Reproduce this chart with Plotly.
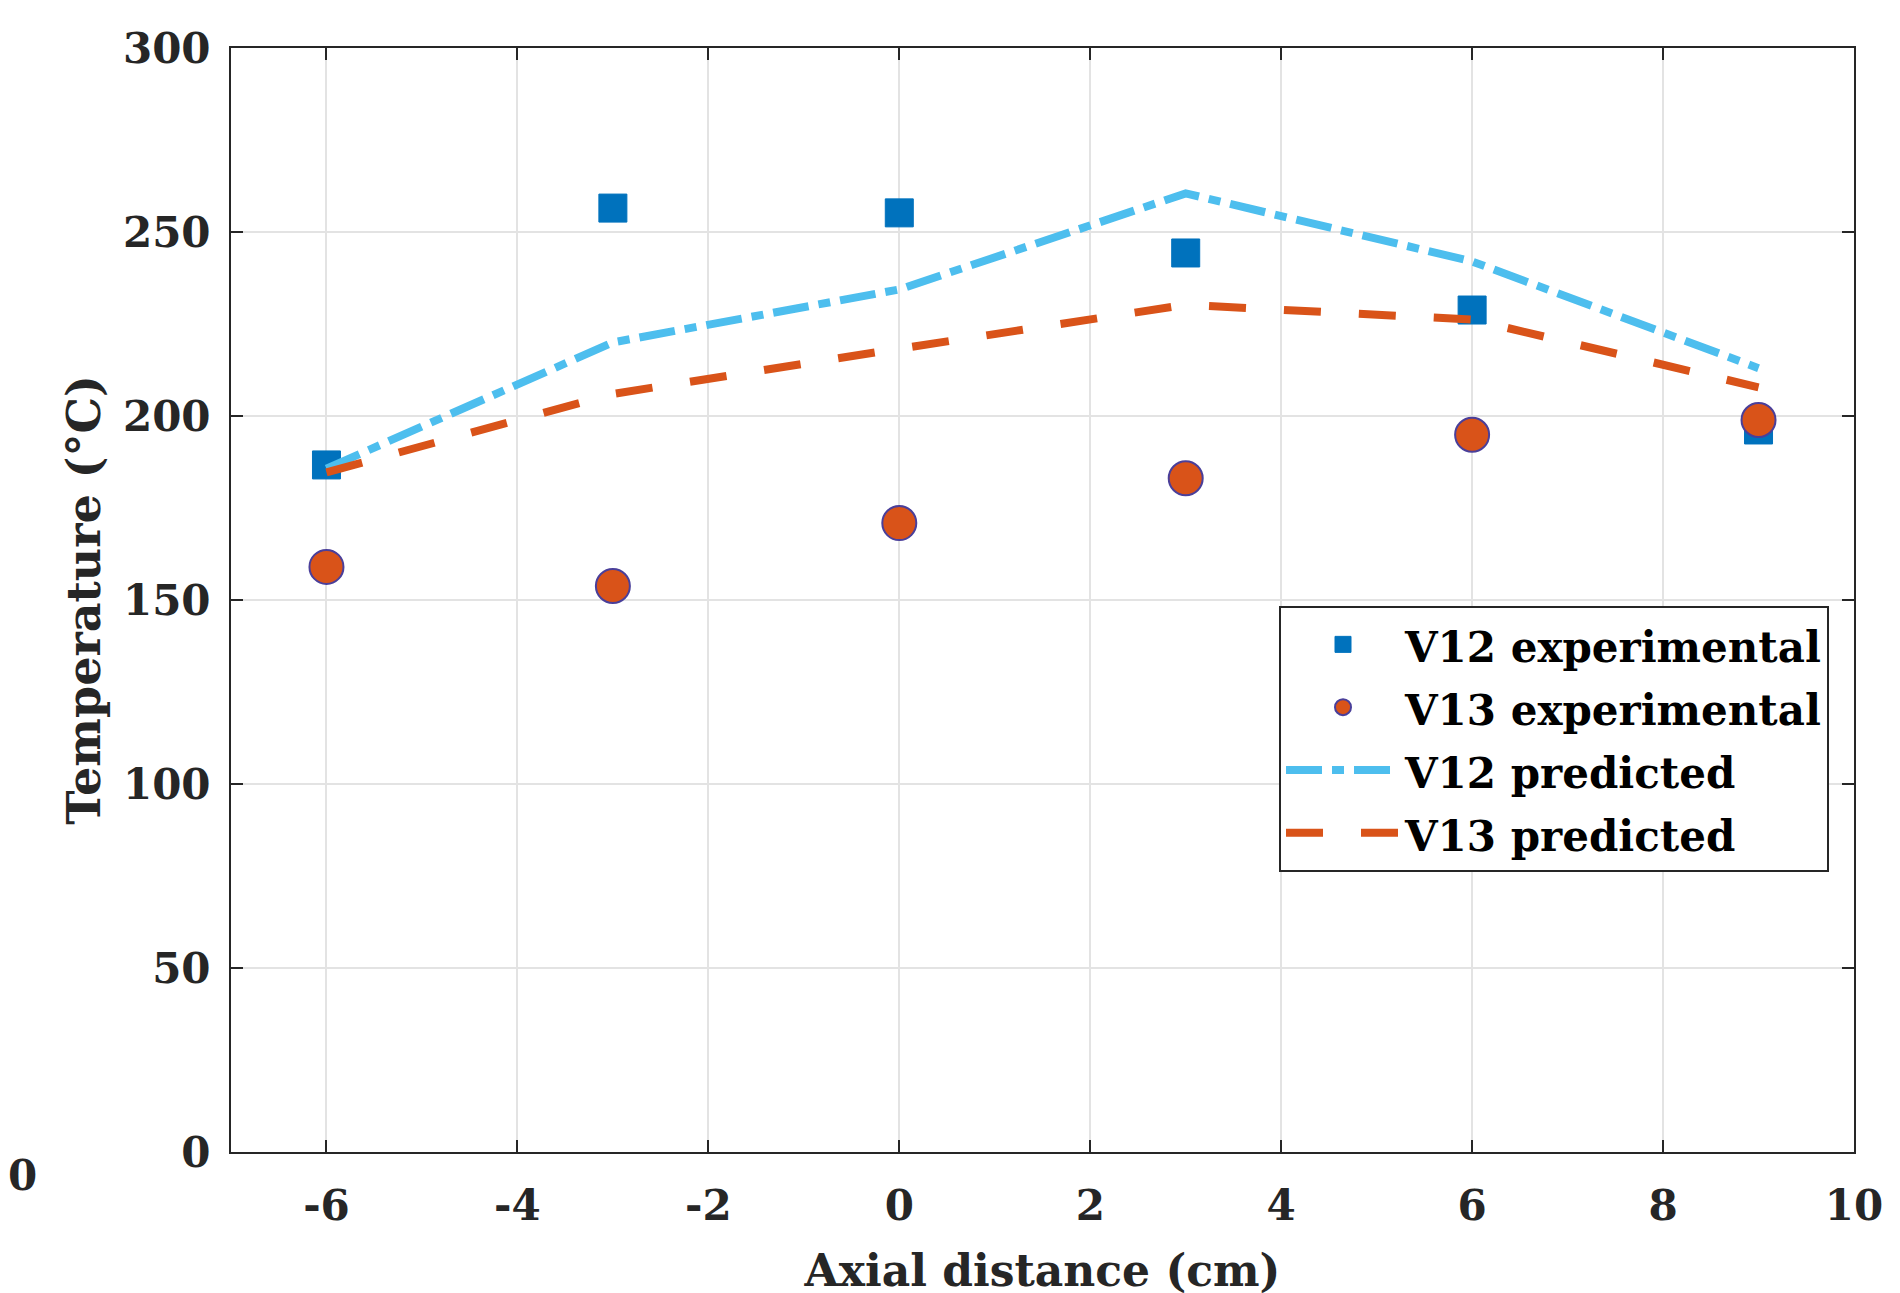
import plotly.graph_objects as go

x_pos = [-6, -3, 0, 3, 6, 9]
v12_exp = [186.7, 256.5, 255.2, 244.3, 228.8, 196.2]
v13_exp = [159.0, 153.8, 170.9, 183.1, 194.9, 198.9]
v12_pred = [185.7, 220.0, 234.4, 260.5, 242.0, 213.0]
v13_pred = [184.7, 206.0, 218.3, 230.2, 226.2, 207.8]

x_ticks = [-6, -4, -2, 0, 2, 4, 6, 8, 10]
y_ticks = [0, 50, 100, 150, 200, 250, 300]

series_names = ["V12 experimental", "V13 experimental", "V12 predicted", "V13 predicted"]

FONT = "DejaVu Serif"
LEG_TXT = '<span style="font-size:42px">{}</span>'

fig = go.Figure()
fig.add_trace(go.Scatter(
    x=x_pos, y=v12_exp, mode="markers", name=LEG_TXT.format(series_names[0]),
    marker=dict(symbol="square", size=28, color="#0072BD",
                line=dict(color="#0072BD", width=1))))
fig.add_trace(go.Scatter(
    x=x_pos, y=v13_exp, mode="markers", name=LEG_TXT.format(series_names[1]),
    marker=dict(symbol="circle", size=34, color="#D95319",
                line=dict(color="#4a3f9a", width=2))))
fig.add_trace(go.Scatter(
    x=x_pos, y=v12_pred, mode="lines", name=LEG_TXT.format(series_names[2]),
    line=dict(color="#4DBEEE", width=8, dash="36px,10px,12px,10px")))
fig.add_trace(go.Scatter(
    x=x_pos, y=v13_pred, mode="lines", name=LEG_TXT.format(series_names[3]),
    line=dict(color="#D95319", width=8, dash="37px,38px")))

axis_common = dict(
    showline=True, linecolor="#262626", linewidth=2, mirror="ticks",
    ticks="inside", ticklen=12, tickwidth=2, tickcolor="#262626",
    showgrid=True, gridcolor="#e3e3e3", gridwidth=2, zeroline=False,
    automargin=False,
    tickfont=dict(family=FONT, size=42, color="#262626", weight="bold"),
)

# the page body has an 8px margin, so margins are offset by 8px
fig.update_layout(
    width=1900, height=1293,
    margin=dict(l=223, r=54, t=40, b=149),
    paper_bgcolor="white", plot_bgcolor="white",
    font=dict(family=FONT, size=42, color="#000000"),
    showlegend=True,
    legend=dict(
        x=0.9846, y=0.4946, xanchor="right", yanchor="top",
        bgcolor="white", bordercolor="#262626", borderwidth=2,
        font=dict(family=FONT, size=46, color="#000000", weight="bold"),
        itemwidth=114, tracegroupgap=0,
    ),
)
fig.update_xaxes(
    range=[-7, 10], tickvals=x_ticks, ticktext=[str(v) for v in x_ticks],
    ticklabelstandoff=16,
    title=dict(text="Axial distance (cm)", font=dict(family=FONT, size=44, color="#262626", weight="bold"), standoff=26),
    **axis_common)
fig.update_yaxes(
    range=[0, 300], tickvals=y_ticks, ticktext=[str(v) for v in y_ticks],
    ticklabelstandoff=10,
    title=dict(text="Temperature (°C)", font=dict(family=FONT, size=46, color="#262626", weight="bold"), standoff=8),
    **axis_common)

fig.add_annotation(
    text="0", xref="paper", yref="paper", x=-0.1385, y=-0.021,
    xanchor="left", yanchor="middle", showarrow=False,
    font=dict(family=FONT, size=42, color="#262626", weight="bold"))

fig.write_html("out.html")
